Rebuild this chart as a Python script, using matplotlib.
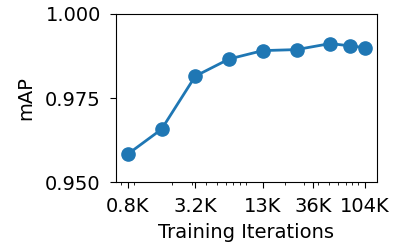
import matplotlib
matplotlib.use("Agg")
import matplotlib.pyplot as plt

iterations = [800, 1600, 3200, 6400, 12800, 25600, 51200, 76800, 104000]
map_values = [0.9583, 0.9657, 0.9815, 0.9866, 0.9891, 0.9894, 0.9912, 0.9905, 0.9900]
tick_positions = [800, 3200, 12800, 36000, 104000]
tick_labels = ["0.8K", "3.2K", "13K", "36K", "104K"]
y_ticks = [0.950, 0.975, 1.000]

plt.rcParams['font.size'] = 14
fig = plt.figure(figsize=(3.95, 2.45), dpi=100)
ax = fig.add_axes([0.294, 0.257, 0.66, 0.686])
ax.plot(iterations, map_values, marker='o', color='#1f77b4', linewidth=2, markersize=9.5)
ax.set_xscale('log')
ax.set_xlim(630, 133000)
ax.set_ylim(0.950, 1.000)
ax.set_xticks(tick_positions)
ax.set_xticklabels(tick_labels)
ax.set_yticks(y_ticks)
ax.set_yticklabels([f"{v:.3f}" for v in y_ticks])
ax.tick_params(which='major', length=4.5, pad=6.5)
ax.tick_params(which='minor', length=2.2)
ax.set_xlabel("Training Iterations", labelpad=5)
ax.set_ylabel("mAP", labelpad=7)
fig.savefig("out.png", dpi=100)
